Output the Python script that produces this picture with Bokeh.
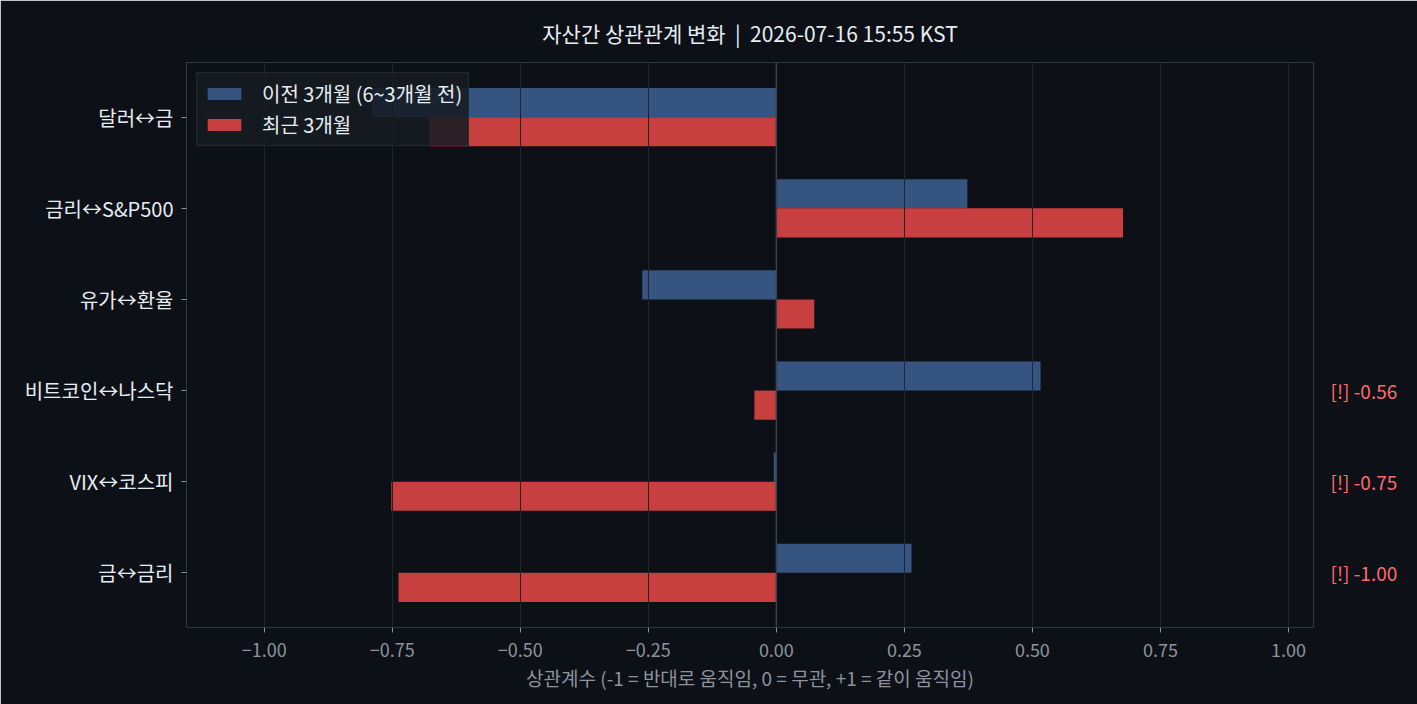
from bokeh.plotting import figure
from bokeh.models import (ColumnDataSource, FixedTicker, LinearAxis, Span, Legend, LegendItem, Range1d)
from bokeh.embed import file_html
from bokeh.resources import INLINE

# ---- data ----
pairs = ["달러↔금", "금리↔S&P500", "유가↔환율", "비트코인↔나스닥", "VIX↔코스피", "금↔금리"]
prev_3m = [-0.790, 0.373, -0.262, 0.516, -0.005, 0.264]
recent_3m = [-0.678, 0.677, 0.074, -0.043, -0.752, -0.738]
series_names = ["이전 3개월 (6~3개월 전)", "최근 3개월"]
x_ticks = [-1.0, -0.75, -0.5, -0.25, 0.0, 0.25, 0.5, 0.75, 1.0]
title_text = "자산간 상관관계 변화 \u00a0|\u00a0 2026-07-16 15:55 KST"
x_label = "상관계수 (-1 = 반대로 움직임, 0 = 무관, +1 = 같이 움직임)"
flag_threshold = 0.5

FONT = "Noto Sans CJK KR"
BG = "#0d1017"
BLUE = "#365480"
RED = "#c83f40"
EDGE = "#30363d"
GRID = "#20252d"
TXT = "#e6edf3"
MUTED = "#8b949e"

n = len(pairs)
ypos = [n - 1 - i for i in range(n)]
bh = 0.32

src_prev = ColumnDataSource(dict(y=[y + bh / 2 for y in ypos], v=prev_3m))
src_recent = ColumnDataSource(dict(y=[y - bh / 2 for y in ypos], v=recent_3m))

p = figure(width=1417, height=704, output_backend="svg", toolbar_location=None,
           x_range=Range1d(-1.152, 1.049), y_range=Range1d(-0.6, n - 1 + 0.6),
           min_border_left=186, min_border_right=104, min_border_top=62, min_border_bottom=77,
           background_fill_color=BG, border_fill_color=BG, outline_line_color=EDGE)

r1 = p.hbar(y="y", right="v", left=0, height=bh, source=src_prev, fill_color=BLUE, line_color=None)
r2 = p.hbar(y="y", right="v", left=0, height=bh, source=src_recent, fill_color=RED, line_color=None)

p.add_layout(Span(location=0, dimension="height", line_color="#3a3f48", line_width=1.5))

# title
p.title.text = title_text
p.title.align = "center"
p.title.text_color = TXT
p.title.text_font = FONT
p.title.text_font_size = "21px"
p.title.text_font_style = "normal"
p.title.standoff = 29

# x axis
xa = p.xaxis[0]
xa.ticker = FixedTicker(ticks=x_ticks)
xa.major_label_overrides = {t: f"{t:.2f}".replace("-", "−") for t in x_ticks}
xa.major_label_text_color = MUTED
xa.major_label_text_font = FONT
xa.major_label_text_font_size = "18px"
xa.major_tick_out = 5
xa.major_tick_in = 0
xa.minor_tick_out = 0
xa.minor_tick_in = 0
xa.major_tick_line_color = MUTED
xa.axis_line_color = None
xa.major_label_standoff = 10
xa.axis_label = x_label
xa.axis_label_text_color = MUTED
xa.axis_label_text_font = FONT
xa.axis_label_text_font_size = "19px"
xa.axis_label_text_font_style = "normal"
xa.axis_label_standoff = 4

# y axis
ya = p.yaxis[0]
ya.ticker = FixedTicker(ticks=ypos)
ya.major_label_overrides = {y: lbl for y, lbl in zip(ypos, pairs)}
ya.major_label_text_color = TXT
ya.major_label_text_font = FONT
ya.major_label_text_font_size = "20px"
ya.major_tick_out = 5
ya.major_tick_in = 0
ya.minor_tick_out = 0
ya.minor_tick_in = 0
ya.major_tick_line_color = MUTED
ya.axis_line_color = None
ya.major_label_standoff = 8

# right-side flags for large changes
flag_y, flag_lbl = [], {}
for y, a, b in zip(ypos, prev_3m, recent_3m):
    d = b - a
    if abs(d) > flag_threshold:
        flag_y.append(y)
        flag_lbl[y] = f"[!] {d:.2f}"
ra = LinearAxis(ticker=FixedTicker(ticks=flag_y), major_label_overrides=flag_lbl)
ra.major_label_text_color = "#ff6b6b"
ra.major_label_text_font = FONT
ra.major_label_text_font_size = "19px"
ra.major_tick_out = 0
ra.major_tick_in = 0
ra.minor_tick_out = 0
ra.minor_tick_in = 0
ra.axis_line_color = None
ra.major_label_standoff = 17
p.add_layout(ra, "right")

# grid
p.xgrid.ticker = FixedTicker(ticks=x_ticks)
p.xgrid.grid_line_color = GRID
p.xgrid.level = "guide"
p.ygrid.grid_line_color = None

# legend
leg = Legend(items=[LegendItem(label=series_names[0], renderers=[r1]),
                    LegendItem(label=series_names[1], renderers=[r2])],
             location="top_left", margin=10, padding=6, spacing=2,
             glyph_width=42, glyph_height=15, label_height=24, label_standoff=17,
             background_fill_color="#161b22", background_fill_alpha=0.88,
             border_line_color=EDGE, border_line_width=1.5,
             label_text_color=TXT, label_text_font=FONT, label_text_font_size="20px")
p.add_layout(leg)

open("out.html", "w").write(file_html(p, INLINE))
